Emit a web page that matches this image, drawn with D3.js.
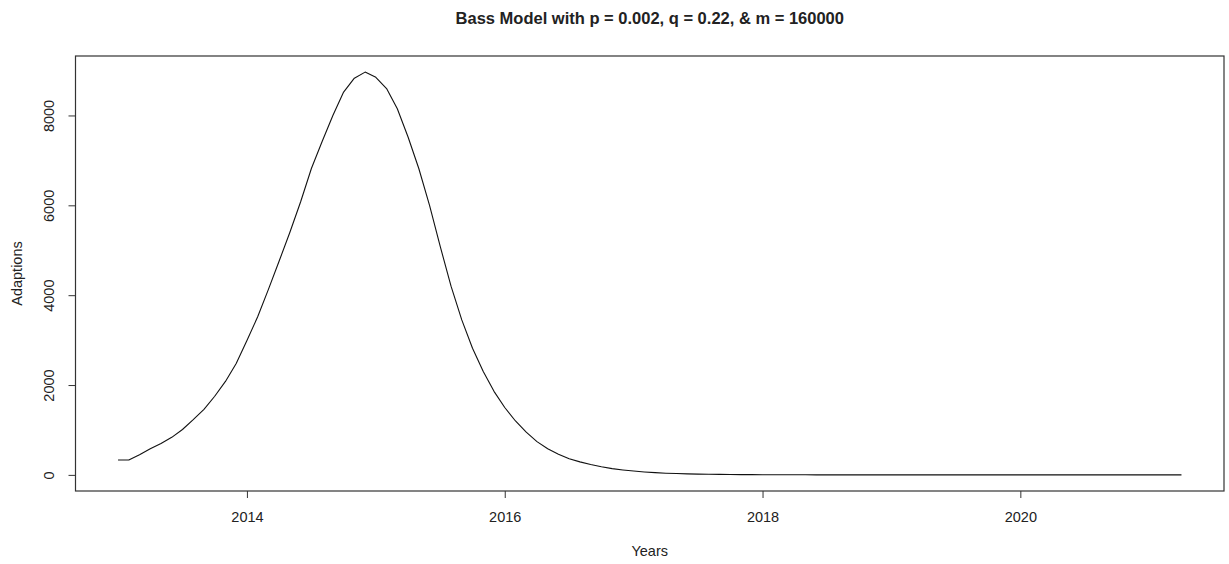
<!DOCTYPE html>
<html>
<head>
<meta charset="utf-8">
<script src="https://cdn.jsdelivr.net/npm/d3@7"></script>
<style>
  html, body { margin: 0; padding: 0; background: #ffffff; }
  svg { display: block; }
  text { font-family: "Liberation Sans", Arial, Helvetica, sans-serif; fill: #222; }
</style>
</head>
<body>
<svg id="chart" width="1229" height="564"></svg>
<script>
// ---- data ----
const chartTitle = "Bass Model with p = 0.002, q = 0.22, & m = 160000";
const xLabel = "Years";
const yLabel = "Adaptions";
const startYear = 2013;      // first observation: Jan 2013, monthly series
const periodsPerYear = 12;
const adoptions = [
  333, 333, 450, 580, 700, 836, 1010, 1230, 1460, 1750,
  2080, 2480, 2990, 3520, 4130, 4760, 5400, 6080, 6820, 7420,
  8000, 8520, 8830, 8965, 8850, 8600, 8150, 7520, 6820, 6000,
  5080, 4200, 3450, 2820, 2300, 1860, 1500, 1200, 950, 740,
  580, 460, 360, 290, 230, 180, 140, 110, 85, 65,
  50, 38, 30, 23, 18, 14, 11, 8, 6, 5,
  4, 3, 2.5, 2, 1.5, 1.2, 1, 0.8, 0.6, 0.5,
  0.4, 0.3, 0.25, 0.2, 0.15, 0.12, 0.1, 0.08, 0.06, 0.05,
  0.04, 0.03, 0.02, 0.02, 0.01, 0.01, 0.01, 0, 0, 0,
  0, 0, 0, 0, 0, 0, 0, 0, 0, 0
];
const xTicks = [2014, 2016, 2018, 2020];
const yTicks = [0, 2000, 4000, 6000, 8000];

// ---- layout ----
const W = 1229, H = 564;
const box = { left: 75.5, right: 1224, top: 56, bottom: 491 };
const fontStack = '"Liberation Sans", Arial, sans-serif';

const svg = d3.select("#chart");
svg.append("rect").attr("width", W).attr("height", H).attr("fill", "#fff");

const points = adoptions.map((v, i) => ({ t: startYear + i / periodsPerYear, v }));

// R-style 4% padding of the data range
const xExt = d3.extent(points, d => d.t);
const yExt = d3.extent(points, d => d.v);
const xPad = (xExt[1] - xExt[0]) * 0.04;
const yPad = (yExt[1] - yExt[0]) * 0.04;

const x = d3.scaleLinear().domain([xExt[0] - xPad, xExt[1] + xPad]).range([box.left, box.right]);
const y = d3.scaleLinear().domain([yExt[0] - yPad, yExt[1] + yPad]).range([box.bottom, box.top]);

// plot box
svg.append("rect")
  .attr("x", box.left).attr("y", box.top)
  .attr("width", box.right - box.left).attr("height", box.bottom - box.top)
  .attr("fill", "none").attr("stroke", "#333").attr("stroke-width", 1.2);

// x axis
const xAxis = d3.axisBottom(x).tickValues(xTicks).tickFormat(d3.format("d")).tickSize(7).tickPadding(14);
const gx = svg.append("g").attr("transform", `translate(0,${box.bottom})`).call(xAxis);
gx.select(".domain").remove();
gx.selectAll(".tick line").attr("stroke", "#333");
gx.selectAll(".tick text").attr("font-size", 14.5).attr("fill", "#222")
  .style("font-family", fontStack);

// y axis (labels rotated, parallel to axis as in base R)
const yAxis = d3.axisLeft(y).tickValues(yTicks).tickFormat(d3.format("d")).tickSize(7).tickPadding(0);
const gy = svg.append("g").attr("transform", `translate(${box.left},0)`).call(yAxis);
gy.select(".domain").remove();
gy.selectAll(".tick line").attr("stroke", "#333");
gy.selectAll(".tick text")
  .attr("font-size", 14.5).attr("fill", "#222")
  .style("font-family", fontStack)
  .attr("x", null)
  .attr("text-anchor", "middle")
  .attr("transform", "translate(-27,0) rotate(-90)")
  .attr("dy", "0.35em");

// line
const line = d3.line().x(d => x(d.t)).y(d => y(d.v));
svg.append("path").datum(points)
  .attr("d", line)
  .attr("fill", "none").attr("stroke", "#111").attr("stroke-width", 1.1)
  .attr("stroke-linejoin", "round");

// title
svg.append("text")
  .attr("x", (box.left + box.right) / 2).attr("y", 24)
  .attr("text-anchor", "middle")
  .attr("font-size", 16.5).attr("font-weight", "bold").attr("fill", "#111")
  .text(chartTitle);

// axis titles
svg.append("text")
  .attr("x", (box.left + box.right) / 2).attr("y", 556)
  .attr("text-anchor", "middle").attr("font-size", 14.5)
  .text(xLabel);

svg.append("text")
  .attr("transform", `translate(22,${(box.top + box.bottom) / 2}) rotate(-90)`)
  .attr("text-anchor", "middle").attr("font-size", 14.5)
  .text(yLabel);
</script>
</body>
</html>
